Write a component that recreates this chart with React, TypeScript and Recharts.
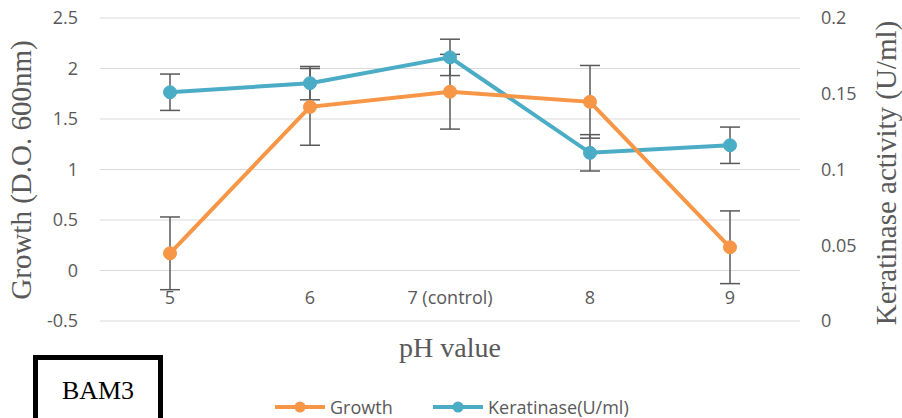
import React from 'react';
import { LineChart, Line, XAxis, YAxis, CartesianGrid, ErrorBar, Legend } from 'recharts';

// Values
const PH_LABELS = ['5', '6', '7 (control)', '8', '9'];
const GROWTH = [0.17, 1.62, 1.77, 1.67, 0.23];
const GROWTH_ERR = [0.36, 0.38, 0.37, 0.36, 0.36];
const KERATINASE = [0.151, 0.157, 0.174, 0.111, 0.116];
const KERATINASE_ERR = [0.012, 0.011, 0.012, 0.012, 0.012];
const LEFT_TICKS = [-0.5, 0, 0.5, 1, 1.5, 2, 2.5];
const RIGHT_TICKS = [0, 0.05, 0.1, 0.15, 0.2];
const SERIES_NAMES = ['Growth', 'Keratinase(U/ml)'];

const ORANGE = '#F79646';
const BLUE = '#4BACC6';
const GREY = '#595959';
const TICK_FONT = '"Open Sans", sans-serif';
const TITLE_FONT = '"Liberation Serif", "Times New Roman", serif';

const data = PH_LABELS.map((ph, i) => ({
  ph,
  growth: GROWTH[i],
  growthErr: GROWTH_ERR[i],
  keratinase: KERATINASE[i],
  keratinaseErr: KERATINASE_ERR[i],
}));

// x labels sit just under the 0 line, above the bottom of the plot
const PhTick = ({ x, y, payload }: any) => (
  <text x={x} y={y - 17} textAnchor="middle" fill={GREY} fontSize={18} fontFamily={TICK_FONT}>
    {payload.value}
  </text>
);

const VerticalTitle = ({ posX, posY, text }: any) => (
  <text
    x={posX}
    y={posY}
    transform={`rotate(-90, ${posX}, ${posY})`}
    textAnchor="middle"
    fill={GREY}
    fontSize={29}
    fontFamily={TITLE_FONT}
  >
    {text}
  </text>
);

const HorizontalTitle = ({ posX, posY, text }: any) => (
  <text x={posX} y={posY} textAnchor="middle" fill={GREY} fontSize={28} fontFamily={TITLE_FONT}>
    {text}
  </text>
);

const LegendContent = () => {
  const colors = [ORANGE, BLUE];
  return (
    <div
      style={{
        display: 'flex',
        alignItems: 'center',
        height: 24,
        paddingLeft: 275,
        fontFamily: TICK_FONT,
        fontSize: 18,
        color: GREY,
      }}
    >
      {SERIES_NAMES.map((name, i) => (
        <div key={name} style={{ display: 'flex', alignItems: 'center', width: i === 0 ? 158 : 'auto' }}>
          <svg width={50} height={14} style={{ marginRight: 5 }}>
            <line x1={0} y1={7} x2={50} y2={7} stroke={colors[i]} strokeWidth={4} />
            <circle cx={25} cy={7} r={5.5} fill={colors[i]} />
          </svg>
          <span>{name}</span>
        </div>
      ))}
    </div>
  );
};

export default function App() {
  return (
    <div
      style={{
        position: 'absolute',
        left: 0,
        top: 0,
        width: 902,
        height: 418,
        overflow: 'hidden',
        background: '#fff',
      }}
    >
      <LineChart width={902} height={418} data={data} margin={{ top: 18, right: 0, left: 0, bottom: 23 }}>
        <CartesianGrid yAxisId="left" vertical={false} stroke="#D9D9D9" strokeWidth={1} />
        <XAxis
          dataKey="ph"
          type="category"
          height={50}
          padding={{ left: 70, right: 70 }}
          axisLine={false}
          tickLine={false}
          tickSize={0}
          tickMargin={0}
          interval={0}
          tick={<PhTick />}
          label={<HorizontalTitle posX={450} posY={357} text="pH value" />}
        />
        <YAxis
          yAxisId="left"
          width={100}
          type="number"
          domain={[-0.5, 2.5]}
          ticks={LEFT_TICKS}
          axisLine={false}
          tickLine={false}
          tickSize={0}
          tickMargin={22}
          tick={{ fill: GREY, fontSize: 18, fontFamily: TICK_FONT }}
          label={<VerticalTitle posX={31} posY={170} text="Growth (D.O. 600nm)" />}
        />
        <YAxis
          yAxisId="right"
          orientation="right"
          width={102}
          type="number"
          domain={[0, 0.2]}
          ticks={RIGHT_TICKS}
          axisLine={false}
          tickLine={false}
          tickSize={0}
          tickMargin={21}
          tick={{ fill: GREY, fontSize: 18, fontFamily: TICK_FONT, textAnchor: 'start' }}
          label={<VerticalTitle posX={896} posY={173} text="Keratinase activity (U/ml)" />}
        />
        <Legend
          verticalAlign="bottom"
          content={<LegendContent />}
          wrapperStyle={{ top: 395, left: 0, width: 902, height: 24, margin: 0 }}
        />
        <Line
          yAxisId="right"
          type="linear"
          dataKey="keratinase"
          name={SERIES_NAMES[1]}
          stroke={BLUE}
          strokeWidth={4}
          dot={{ r: 6.5, fill: BLUE, stroke: BLUE, strokeWidth: 1 }}
          activeDot={false}
          isAnimationActive={false}
        >
          <ErrorBar dataKey="keratinaseErr" direction="y" width={10} stroke={GREY} strokeWidth={1.5} />
        </Line>
        <Line
          yAxisId="left"
          type="linear"
          dataKey="growth"
          name={SERIES_NAMES[0]}
          stroke={ORANGE}
          strokeWidth={4}
          dot={{ r: 6.5, fill: ORANGE, stroke: ORANGE, strokeWidth: 1 }}
          activeDot={false}
          isAnimationActive={false}
        >
          <ErrorBar dataKey="growthErr" direction="y" width={10} stroke={GREY} strokeWidth={1.5} />
        </Line>
      </LineChart>
      <div
        style={{
          position: 'absolute',
          left: 33,
          top: 355,
          width: 120,
          height: 80,
          border: '5px solid #000',
          fontFamily: TITLE_FONT,
          fontSize: 26,
          color: '#000',
          textAlign: 'center',
          lineHeight: '26px',
          paddingTop: 18,
          boxSizing: 'content-box',
        }}
      >
        BAM3
      </div>
    </div>
  );
}
